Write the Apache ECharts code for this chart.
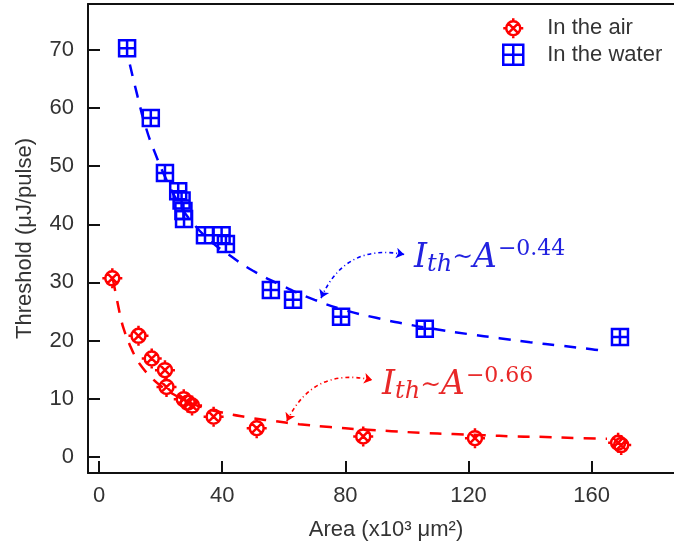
<!DOCTYPE html>
<html>
<head>
<meta charset="utf-8">
<script src="https://cdn.jsdelivr.net/npm/echarts@6/dist/echarts.min.js"></script>
<style>
html, body { margin: 0; padding: 0; background: #fff; }
#chart { width: 674px; height: 555px; }
</style>
</head>
<body>
<div id="chart"></div>
<script>
// measured points: area (x10^3 um^2) and threshold (uJ/pulse)
var airArea = [4.3, 12.8, 17.1, 21.4, 21.9, 27.5, 28.8, 30.2, 37.2, 51.2, 85.8, 122.1, 168.6, 169.6];
var airThreshold = [30.7, 20.8, 16.9, 14.9, 12.0, 9.9, 9.3, 8.8, 6.9, 4.9, 3.5, 3.2, 2.4, 2.0];
var waterArea = [9.1, 16.8, 21.4, 25.7, 26.8, 27.4, 27.6, 34.4, 39.8, 41.2, 55.8, 63.0, 78.6, 105.8, 169.2];
var waterThreshold = [70.3, 58.3, 48.8, 45.7, 44.1, 42.3, 40.9, 38.1, 38.1, 36.6, 28.7, 27.0, 24.1, 22.0, 20.6];

// dashed fitted curves
var airFitArea = [4.5, 6, 7, 8, 10, 12, 14, 17, 20, 24, 28, 33, 40, 48, 56, 65, 75, 85, 95, 105, 115, 125, 135, 145, 155, 165];
var airFitThreshold = [30.5, 26.5, 24, 22, 19.2, 17, 15.4, 13.6, 12.2, 10.8, 9.7, 8.6, 7.6, 6.8, 6.2, 5.6, 5.1, 4.7, 4.4, 4.1, 3.9, 3.7, 3.5, 3.4, 3.2, 3.1];
var waterFitArea = [10, 12.5, 15, 18, 22, 26, 30, 36, 42, 50, 60, 70, 80, 90, 100, 110, 120, 130, 140, 150, 160, 165];
var waterFitThreshold = [67.5, 62, 57, 52.5, 47.5, 43.5, 40.5, 37.2, 34.8, 32, 29.3, 27, 25.2, 23.9, 22.8, 21.9, 21.1, 20.4, 19.7, 19.1, 18.5, 18.1];

var xTicks = [0, 40, 80, 120, 160];
var yTicks = [0, 10, 20, 30, 40, 50, 60, 70];

// annotation arrows and text anchors, in data units
var waterArrow = [[72.1, 27.3], [99.1, 34.8]];
var airArrow = [[61.0, 6.1], [88.7, 13.2]];
var waterLabelAt = [102.3, 34.2];
var airLabelAt = [91.9, 12.3];

var airSymbol = 'path://M3 10A7 7 0 1 1 17 10A7 7 0 1 1 3 10Z M5.05 5.05L14.95 14.95 M14.95 5.05L5.05 14.95 M10 0L10 3 M10 17L10 20 M0 10L3 10 M17 10L20 10';
var waterSymbol = 'path://M1 1H19V19H1Z M10 1V19 M1 10H19';

var RED = '#ff0000';
var BLUE = '#0000ff';

function zip(xs, ys) {
  return xs.map(function (x, i) { return [x, ys[i]]; });
}

function formulaRich(color) {
  return {
    i: { fontFamily: 'DejaVu Serif', fontStyle: 'italic', fontSize: 33, color: color, lineHeight: 44, verticalAlign: 'middle' },
    sub: { fontFamily: 'DejaVu Serif', fontStyle: 'italic', fontSize: 24, color: color, lineHeight: 44, verticalAlign: 'bottom', padding: [0, 0, 3, 0] },
    t: { fontFamily: 'DejaVu Serif', fontSize: 25, color: color, lineHeight: 44, verticalAlign: 'middle' },
    sup: { fontFamily: 'DejaVu Serif', fontSize: 22, color: color, lineHeight: 44, verticalAlign: 'top', padding: [2, 0, 0, 1] }
  };
}

var axisFont = { fontFamily: 'Liberation Sans', fontSize: 22, color: '#333' };
var frameLine = { show: true, onZero: false, lineStyle: { color: '#111', width: 2 } };

var chart = echarts.init(document.getElementById('chart'));
chart.setOption({
  animation: false,
  backgroundColor: '#fff',
  grid: {
    left: 88, top: 4, width: 596, height: 469,
    outerBoundsMode: 'none', containLabel: false
  },
  legend: {
    orient: 'vertical',
    left: 497, top: 12,
    itemWidth: 20, itemHeight: 20, itemGap: 4,
    textStyle: { fontFamily: 'Liberation Sans', fontSize: 22, color: '#333', padding: [0, 0, 0, 19] },
    data: [
      { name: 'In the air', icon: airSymbol, itemStyle: { color: 'rgba(0,0,0,0)', borderColor: RED, borderWidth: 2.5, opacity: 1 } },
      { name: 'In the water', icon: waterSymbol, itemStyle: { color: 'rgba(0,0,0,0)', borderColor: BLUE, borderWidth: 2.5, opacity: 1 } }
    ]
  },
  xAxis: [
    {
      type: 'value', min: -3.6, max: 190,
      name: 'Area (x10³ μm²)', nameLocation: 'middle', nameGap: 46,
      nameTextStyle: axisFont,
      axisLine: frameLine,
      axisTick: { inside: true, length: 12, lineStyle: { color: '#111', width: 2 }, customValues: xTicks },
      axisLabel: Object.assign({ margin: 12, customValues: xTicks }, axisFont),
      splitLine: { show: false }
    },
    {
      // top frame line only
      type: 'value', position: 'top', min: -3.6, max: 190,
      axisLine: frameLine,
      axisTick: { show: false }, axisLabel: { show: false }, splitLine: { show: false }
    }
  ],
  yAxis: {
    type: 'value', min: -2.8, max: 77.9,
    name: 'Threshold (μJ/pulse)', nameLocation: 'middle', nameGap: 52,
    nameTextStyle: axisFont,
    axisLine: frameLine,
    axisTick: { inside: true, length: 12, lineStyle: { color: '#111', width: 2 }, customValues: yTicks },
    axisLabel: Object.assign({ margin: 14, customValues: yTicks }, axisFont),
    splitLine: { show: false }
  },
  series: [
    {
      name: 'air fit', type: 'line', smooth: true, showSymbol: false, silent: true,
      data: zip(airFitArea, airFitThreshold),
      lineStyle: { color: RED, width: 2.5, type: [12, 10] }
    },
    {
      name: 'water fit', type: 'line', smooth: true, showSymbol: false, silent: true,
      data: zip(waterFitArea, waterFitThreshold),
      lineStyle: { color: BLUE, width: 2.5, type: [12, 10] }
    },
    {
      name: 'In the air', type: 'scatter', symbol: airSymbol, symbolSize: 20,
      data: zip(airArea, airThreshold),
      itemStyle: { color: 'rgba(0,0,0,0)', borderColor: RED, borderWidth: 2.5, opacity: 1 }
    },
    {
      name: 'In the water', type: 'scatter', symbol: waterSymbol, symbolSize: 16,
      data: zip(waterArea, waterThreshold),
      itemStyle: { color: 'rgba(0,0,0,0)', borderColor: BLUE, borderWidth: 2.5, opacity: 1 }
    },
    {
      type: 'lines', coordinateSystem: 'cartesian2d', silent: true,
      symbol: ['arrow', 'arrow'], symbolSize: 8,
      data: [
        { coords: waterArrow, lineStyle: { color: BLUE } },
        { coords: airArrow, lineStyle: { color: RED } }
      ],
      lineStyle: { width: 1.6, opacity: 1, type: [4, 3, 1, 3], curveness: 0.4 }
    },
    {
      type: 'scatter', symbolSize: 0, silent: true,
      itemStyle: { opacity: 1 },
      data: [
        { value: waterLabelAt, label: { formatter: '{i|I}{sub|th}{t|∼}{i|A}{sup|−0.44}', rich: formulaRich('#2222e0') } },
        { value: airLabelAt, label: { formatter: '{i|I}{sub|th}{t|∼}{i|A}{sup|−0.66}', rich: formulaRich('#e82828') } }
      ],
      label: { show: true, position: 'right', distance: 0, opacity: 1 }
    }
  ]
});
</script>
</body>
</html>
